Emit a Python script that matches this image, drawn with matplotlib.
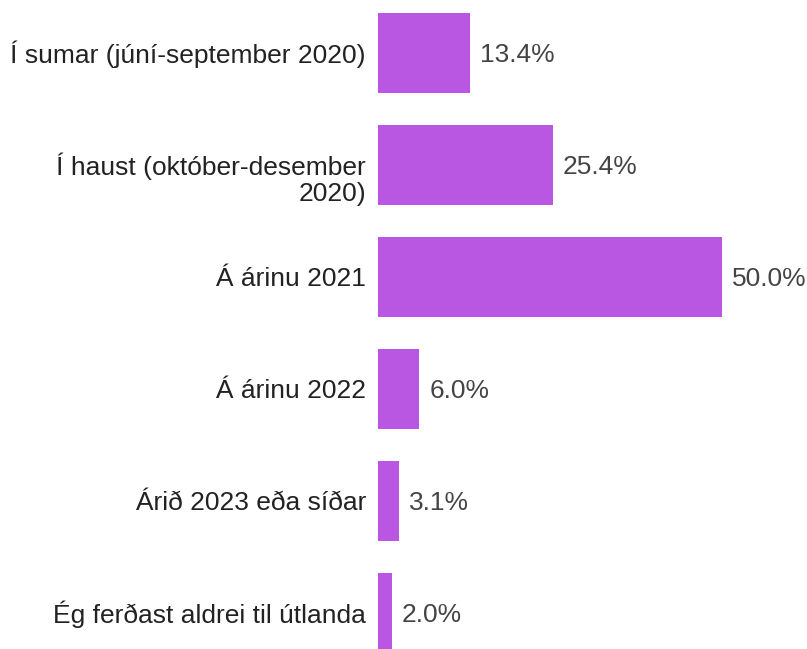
import matplotlib
matplotlib.use("Agg")
import matplotlib.pyplot as plt
from matplotlib.transforms import offset_copy

categories = [
    "Í sumar (júní-september 2020)",
    "Í haust (október-desember\n2020)",
    "Á árinu 2021",
    "Á árinu 2022",
    "Árið 2023 eða síðar",
    "Ég ferðast aldrei til útlanda",
]
values = [13.4, 25.4, 50.0, 6.0, 3.1, 2.0]
value_labels = ["13.4%", "25.4%", "50.0%", "6.0%", "3.1%", "2.0%"]

plt.rcParams['font.family'] = ['Liberation Sans', 'DejaVu Sans']
W, H = 807, 649
fig = plt.figure(figsize=(W / 100, H / 100), dpi=100)
left = 378 / W
ax = fig.add_axes([left, 0, 1 - left, 1])

px_per_unit_x = 344 / 50.0
ax.set_xlim(0, (W - 378) / px_per_unit_x)
ax.set_ylim((H - 53) / 112, -53 / 112)

ypos = list(range(len(categories)))
ax.barh(ypos, values, height=80 / 112, color='#b957e2', edgecolor='none')

fs = 19
lab_tr = offset_copy(ax.transData, fig=fig, x=-12, y=-1.5, units='dots')
for y, cat in zip(ypos, categories):
    dy = 0
    if "\n" in cat:
        dy = 0.11
    ax.text(0, y + dy, cat, transform=lab_tr, ha='right', va='center',
            fontsize=fs, color='#222222', linespacing=1.1)

val_tr = offset_copy(ax.transData, fig=fig, x=10, y=-1.5, units='dots')
for y, v, lab in zip(ypos, values, value_labels):
    ax.text(v, y, lab, transform=val_tr, ha='left', va='center',
            fontsize=fs, color='#444444')

ax.axis('off')
fig.savefig("out.png", dpi=100)
